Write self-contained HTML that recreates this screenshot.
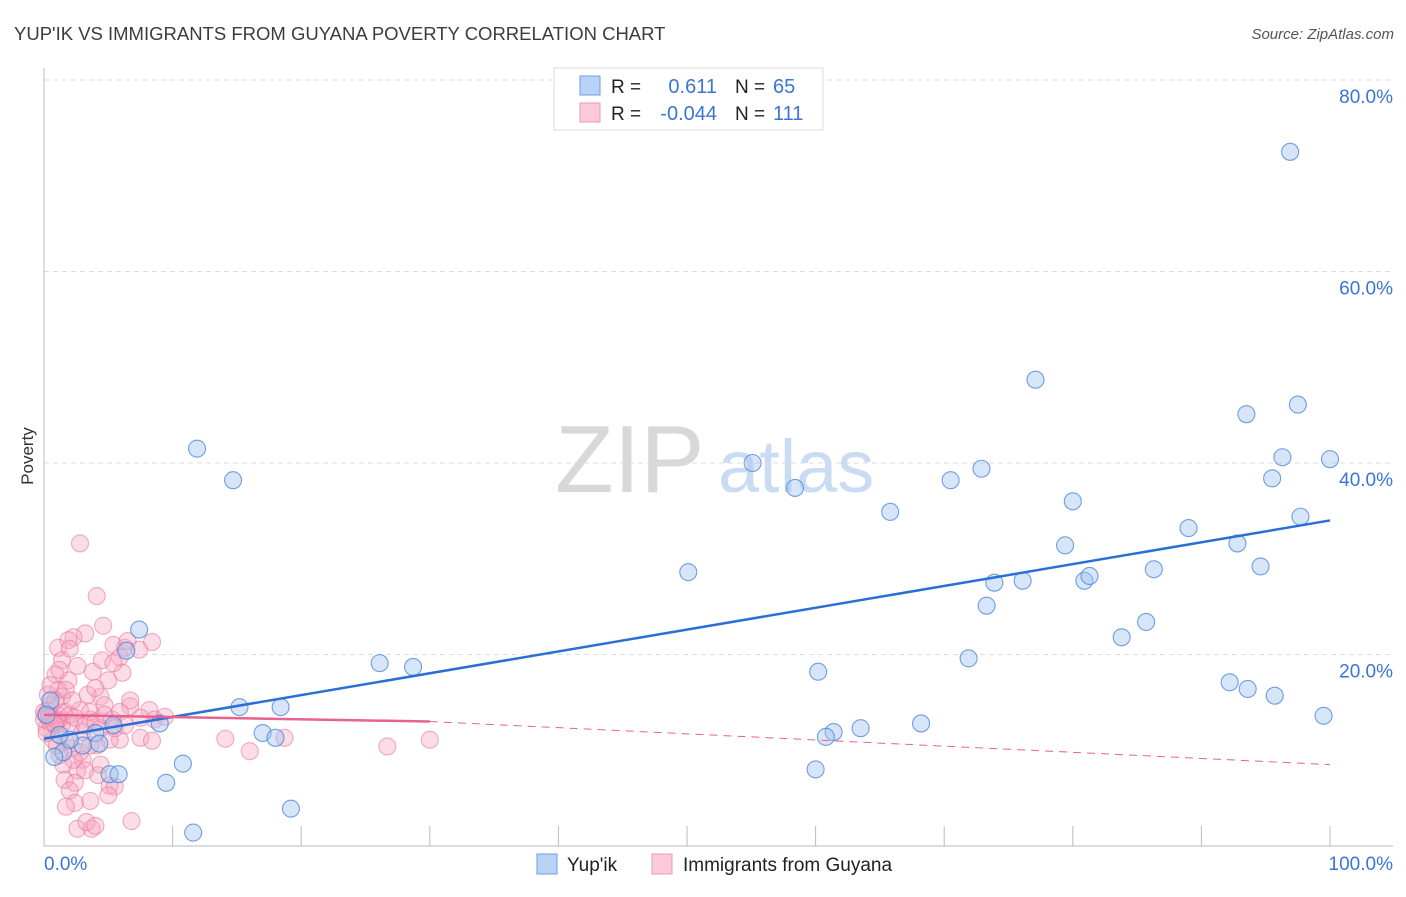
<!DOCTYPE html>
<html><head><meta charset="utf-8"><style>
body{margin:0;background:#fff;font-family:"Liberation Sans",sans-serif;}
svg text{font-family:"Liberation Sans",sans-serif;}
</style></head><body>
<svg id="chart" width="1406" height="892" xmlns="http://www.w3.org/2000/svg">
<text x="14" y="40" font-size="18.5" fill="#3c3c3c">YUP'IK VS IMMIGRANTS FROM GUYANA POVERTY CORRELATION CHART</text>
<text x="1394" y="39" font-size="15" font-style="italic" fill="#555" text-anchor="end">Source: ZipAtlas.com</text>
<text x="33" y="456" font-size="17" fill="#333" text-anchor="middle" transform="rotate(-90 33 456)">Poverty</text>
<g>
<text x="555" y="492" font-size="96" font-family="Liberation Serif,serif" fill="#d8d8d8">ZIP</text>
<text x="718" y="492" font-size="74" fill="#c9dcf3">atlas</text>
</g>
<g id="grid"></g><g id="axes"></g><g id="pts"></g><g id="trend"></g>
<g>
<rect x="554" y="68" width="269" height="62" fill="#fff" stroke="#ddd"/>
<rect x="580" y="76" width="20" height="19" fill="#b8d3f5" stroke="#6f9ee0"/>
<rect x="580" y="103" width="20" height="19" fill="#fbc9d8" stroke="#ec9ab4"/>
<text x="611" y="93" font-size="19" fill="#222">R =</text>
<text x="717" y="93" font-size="20" fill="#3a75d6" text-anchor="end">0.611</text>
<text x="735" y="93" font-size="19" fill="#222">N =</text>
<text x="773" y="93" font-size="20" fill="#3a75d6">65</text>
<text x="611" y="120" font-size="19" fill="#222">R =</text>
<text x="717" y="120" font-size="20" fill="#3a75d6" text-anchor="end">-0.044</text>
<text x="735" y="120" font-size="19" fill="#222">N =</text>
<text x="773" y="120" font-size="20" fill="#3a75d6">111</text>
</g>
<g>
<rect x="537" y="854" width="20" height="20" fill="#b8d3f5" stroke="#6f9ee0"/>
<text x="567" y="871" font-size="19" fill="#222">Yup'ik</text>
<rect x="652" y="854" width="20" height="20" fill="#fbc9d8" stroke="#ec9ab4"/>
<text x="683" y="871" font-size="19" fill="#222">Immigrants from Guyana</text>
</g>
</svg>
<script>
const xTickLabels=["0.0%","100.0%"];
const yTicks=[20,40,60,80];
const yTickLabels=["20.0%","40.0%","60.0%","80.0%"];
const blueX=[96.9,77.1,93.5,97.5,11.9,14.7,55.1,72.9,96.3,100,70.5,95.5,58.4,80.0,65.8,97.7,89.0,79.4,92.8,50.1,94.6,86.3,73.9,76.1,80.9,81.3,73.3,85.7,83.8,7.4,6.4,26.1,28.7,71.9,60.2,92.2,93.6,95.7,15.2,18.4,99.5,68.2,9.0,5.4,63.5,61.4,60.8,17.0,18.0,4.0,4.3,3.0,1.5,0.8,0.5,2.0,10.8,60.0,5.1,5.8,9.5,19.2,11.6,0.2,1.2];
const blueY=[72.5,48.7,45.1,46.1,41.5,38.2,40.0,39.4,40.6,40.4,38.2,38.4,37.4,36.0,34.9,34.4,33.2,31.4,31.6,28.6,29.2,28.9,27.5,27.7,27.7,28.2,25.1,23.4,21.8,22.6,20.4,19.1,18.7,19.6,18.2,17.1,16.4,15.7,14.5,14.5,13.6,12.8,12.8,12.6,12.3,11.9,11.4,11.8,11.3,11.8,10.7,10.5,9.8,9.3,15.2,11.1,8.6,8.0,7.5,7.5,6.6,3.9,1.4,13.7,11.6];
const pinkX=[2.8,4.1,4.6,3.2,2.3,1.9,1.1,2.0,5.4,6.3,6.5,8.4,7.4,5.9,1.4,2.6,3.8,0.9,1.9,1.1,1.4,4.4,5.0,6.1,4.7,6.7,8.2,8.6,5.3,3.6,2.1,3.0,5.9,4.1,2.2,5.1,7.5,8.4,3.0,1.5,2.6,4.2,1.6,2.4,5.1,5.5,2.0,5.0,2.4,1.7,3.6,2.6,3.7,3.3,4.0,6.8,14.1,16.0,18.7,26.7,30.0,9.4,7.5,1.2,0.3,0.6,0.9,0.2,0.1,0.5,1.1,1.4,1.6,2.0,2.4,2.8,3.2,3.6,4.0,4.4,4.7,5.5,5.9,6.3,1.7,0.7,0.2,0.9,1.7,0.3,0.5,1.2,2.2,3.4,4.0,4.5,5.4,6.7,3.6,2.8,2.3,3.2,4.4,1.2,1.0,0,0,0.5,1.0,0.4,0.8];
const pinkY=[31.6,26.1,23.0,22.2,21.8,21.5,20.7,20.6,21.0,20.7,21.4,21.3,20.5,19.7,19.4,18.8,18.2,17.9,17.3,16.3,15.6,15.6,17.3,18.1,14.7,14.6,14.2,13.2,13.2,13.2,12.5,11.9,11.1,10.5,10.2,11.1,11.3,11.0,9.0,8.5,7.9,7.4,6.9,6.6,6.3,6.2,5.8,5.3,4.5,4.1,4.7,1.8,1.8,2.5,2.1,2.6,11.2,9.9,11.3,10.4,11.1,13.5,13.4,13.2,14.2,13.4,12.6,12.3,13.7,14.7,13.7,12.8,14.0,13.7,13.4,14.2,12.6,14.0,13.0,12.3,13.7,12.3,14.0,12.6,10.9,11.1,11.8,15.2,16.3,15.8,16.8,18.4,15.2,15.8,16.5,19.4,19.1,15.2,10.5,9.8,9.0,7.9,8.5,9.5,10.5,13.2,14.0,12.9,13.1,13.5,12.8];
const blueTrend=[11.2,34.0];
const pinkTrend=[13.7,13.0,8.5];
const pinkSolidEnd=30;

const NS="http://www.w3.org/2000/svg";
const X0=44,X1=1330,Y0=846,Y80=80;
const sx=v=>X0+(X1-X0)*v/100;
const sy=v=>Y0-(Y0-Y80)*v/80;
function mk(tag,attrs,parent){const e=document.createElementNS(NS,tag);for(const k in attrs)e.setAttribute(k,attrs[k]);parent.appendChild(e);return e;}
const grid=document.getElementById('grid'),axes=document.getElementById('axes'),pts=document.getElementById('pts'),trend=document.getElementById('trend');
yTicks.forEach((t,i)=>{
 const l=mk('line',{x1:X0,x2:1393,y1:sy(t),y2:sy(t),stroke:'#ddd','stroke-dasharray':'5,4'},grid);
 
 
 const tx=mk('text',{x:1393,y:sy(t)+23,'font-size':19,fill:'#3a75d6','text-anchor':'end'},axes);
 tx.textContent=yTickLabels[i];
 
 
});
const la=mk('line',{x1:X0,x2:X0,y1:68,y2:Y0,stroke:'#bbb'},axes);


const ba=mk('line',{x1:X0,x2:1393,y1:Y0,y2:Y0,stroke:'#bbb'},axes);


for(let i=1;i<=10;i++){
 const tk=mk('line',{x1:sx(i*10),x2:sx(i*10),y1:826,y2:Y0,stroke:'#bbb'},axes);
 
 
}
const xl0=mk('text',{x:X0,y:870,'font-size':19,fill:'#3a75d6'},axes);xl0.textContent=xTickLabels[0];


const xl1=mk('text',{x:1393,y:870,'font-size':19,fill:'#3a75d6','text-anchor':'end'},axes);xl1.textContent=xTickLabels[1];


pinkX.forEach((v,i)=>{
 const c=mk('circle',{cx:sx(v),cy:sy(pinkY[i]),r:8.5,fill:'rgba(246,165,192,0.38)',stroke:'rgba(232,120,158,0.6)','stroke-width':1.1},pts);
 
 
});
blueX.forEach((v,i)=>{
 const c=mk('circle',{cx:sx(v),cy:sy(blueY[i]),r:8.5,fill:'rgba(165,198,240,0.45)',stroke:'rgba(70,130,215,0.75)','stroke-width':1.1},pts);
 
 
});
const bt=mk('line',{x1:sx(0),y1:sy(blueTrend[0]),x2:sx(100),y2:sy(blueTrend[1]),stroke:'#2a6fd6','stroke-width':2.5},trend);


const pt=mk('line',{x1:sx(0),y1:sy(pinkTrend[0]),x2:sx(pinkSolidEnd),y2:sy(pinkTrend[1]),stroke:'#e8628f','stroke-width':2.5},trend);


const pd=mk('line',{x1:sx(pinkSolidEnd),y1:sy(pinkTrend[1]),x2:sx(100),y2:sy(pinkTrend[2]),stroke:'#e8628f','stroke-width':1,'stroke-dasharray':'8,6'},trend);


</script>
</body></html>
